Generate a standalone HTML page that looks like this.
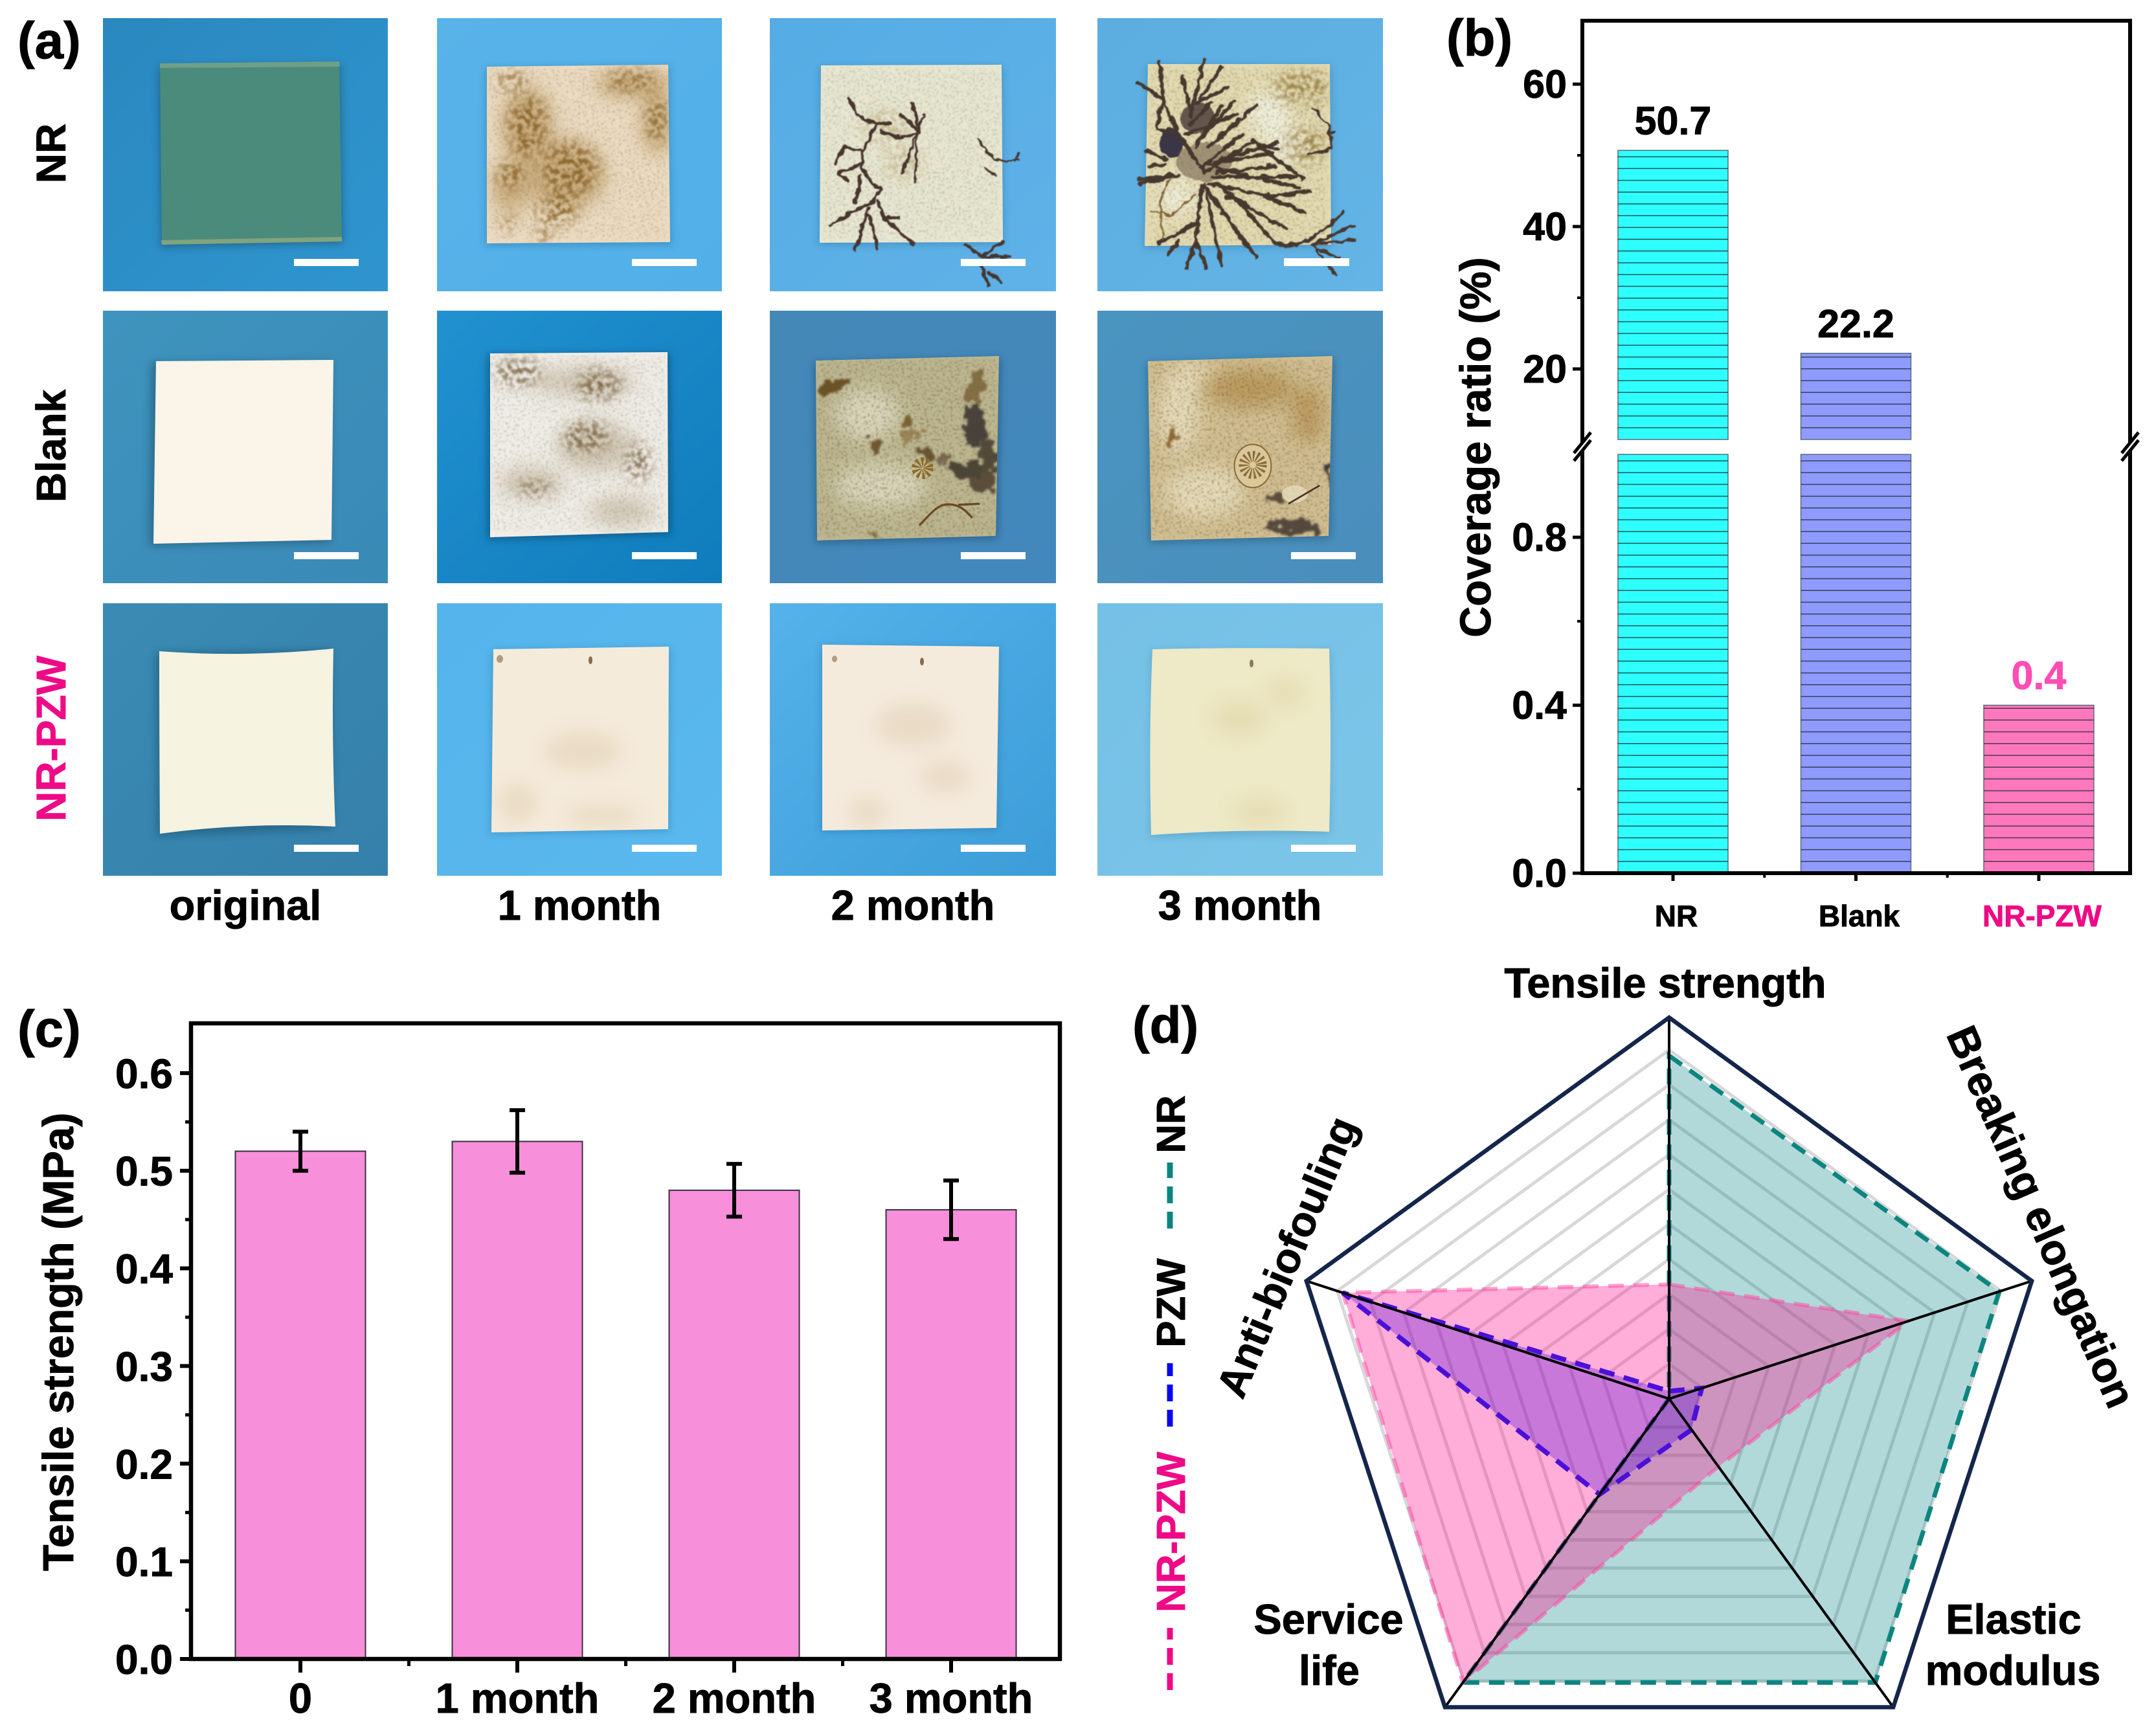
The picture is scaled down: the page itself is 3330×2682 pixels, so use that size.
<!DOCTYPE html>
<html lang="en">
<head>
<meta charset="utf-8">
<title>Antifouling coating figure</title>
<style>
html,body{margin:0;padding:0;background:#fff;}
svg{display:block;}
text{font-family:"Liberation Sans",Arial,sans-serif;font-weight:bold;fill:#000;stroke:#000;stroke-width:.9px;}
text.pink{fill:#EE0A86;stroke:#EE0A86;}
text.lightpink{fill:#FF4DB4;stroke:#FF4DB4;}
</style>
</head>
<body>
<svg id="fig" xmlns="http://www.w3.org/2000/svg" width="3330" height="2682" viewBox="0 0 3330 2682">
<defs>
  <filter id="blot" x="-40%" y="-40%" width="180%" height="180%" color-interpolation-filters="sRGB">
    <feGaussianBlur in="SourceGraphic" stdDeviation="10" result="b"/>
    <feTurbulence type="fractalNoise" baseFrequency=".13" numOctaves="3" seed="5"/>
    <feColorMatrix type="matrix" values="0 0 0 0 0  0 0 0 0 0  0 0 0 0 0  5 0 0 0 -2.1" result="n"/>
    <feComposite in="b" in2="n" operator="in"/>
    <feGaussianBlur stdDeviation="1.2"/>
  </filter>
  <filter id="speck" x="-30%" y="-30%" width="160%" height="160%" color-interpolation-filters="sRGB">
    <feGaussianBlur in="SourceGraphic" stdDeviation="4" result="b"/>
    <feTurbulence type="fractalNoise" baseFrequency=".32" numOctaves="2" seed="11"/>
    <feColorMatrix type="matrix" values="0 0 0 0 0  0 0 0 0 0  0 0 0 0 0  9 0 0 0 -5.1" result="n"/>
    <feComposite in="b" in2="n" operator="in"/>
    <feGaussianBlur stdDeviation="1"/>
  </filter>
  <filter id="soft" x="-50%" y="-50%" width="200%" height="200%"><feGaussianBlur stdDeviation="14"/></filter>
  <filter id="shade" x="-10%" y="-10%" width="120%" height="120%"><feGaussianBlur stdDeviation="6"/></filter>
  <filter id="rough" x="-10%" y="-10%" width="120%" height="120%">
    <feTurbulence type="fractalNoise" baseFrequency=".09" numOctaves="2" seed="3" result="t"/>
    <feDisplacementMap in="SourceGraphic" in2="t" scale="9" xChannelSelector="R" yChannelSelector="G"/>
    <feGaussianBlur stdDeviation=".9"/>
  </filter>
  <filter id="rough2" x="-15%" y="-15%" width="130%" height="130%">
    <feTurbulence type="fractalNoise" baseFrequency=".05" numOctaves="3" seed="8" result="t"/>
    <feDisplacementMap in="SourceGraphic" in2="t" scale="34" xChannelSelector="R" yChannelSelector="G"/>
    <feGaussianBlur stdDeviation="1.6"/>
  </filter>

  <linearGradient id="g00" x1="0" y1="0" x2="1" y2="1"><stop offset="0" stop-color="#2A88BE"/><stop offset="1" stop-color="#2F95CF"/></linearGradient>
  <linearGradient id="g01" x1="0" y1="0" x2="1" y2="1"><stop offset="0" stop-color="#58B3E9"/><stop offset="1" stop-color="#52AFE8"/></linearGradient>
  <linearGradient id="g02" x1="0" y1="0" x2="1" y2="1"><stop offset="0" stop-color="#55ACE4"/><stop offset="1" stop-color="#5FB2E8"/></linearGradient>
  <linearGradient id="g03" x1="0" y1="0" x2="1" y2="1"><stop offset="0" stop-color="#5CAEE0"/><stop offset="1" stop-color="#64B4E6"/></linearGradient>
  <linearGradient id="g10" x1="0" y1="0" x2="1" y2="1"><stop offset="0" stop-color="#3E94BE"/><stop offset="1" stop-color="#3A89B6"/></linearGradient>
  <linearGradient id="g11" x1="0" y1="0" x2="1" y2="1"><stop offset="0" stop-color="#2291D0"/><stop offset="1" stop-color="#0F7CBC"/></linearGradient>
  <linearGradient id="g12" x1="0" y1="0" x2="1" y2="1"><stop offset="0" stop-color="#4488B8"/><stop offset="1" stop-color="#4388BC"/></linearGradient>
  <linearGradient id="g13" x1="0" y1="0" x2="1" y2="1"><stop offset="0" stop-color="#4A94C0"/><stop offset="1" stop-color="#4A8EBC"/></linearGradient>
  <linearGradient id="g20" x1="0" y1="0" x2="1" y2="1"><stop offset="0" stop-color="#3A8BB4"/><stop offset="1" stop-color="#3580AB"/></linearGradient>
  <linearGradient id="g21" x1="0" y1="0" x2="1" y2="1"><stop offset="0" stop-color="#55B4EB"/><stop offset="1" stop-color="#5AB8EE"/></linearGradient>
  <linearGradient id="g22" x1="0" y1="0" x2="1" y2="1"><stop offset="0" stop-color="#55B2EA"/><stop offset="1" stop-color="#3C9DD8"/></linearGradient>
  <linearGradient id="g23" x1="0" y1="0" x2="1" y2="1"><stop offset="0" stop-color="#75C0E6"/><stop offset="1" stop-color="#7BC5E8"/></linearGradient>

  <clipPath id="c01"><path d="M752 103L1032 100L1035 374L752 376Z"/></clipPath>
  <clipPath id="c02"><path d="M1268 101L1547 100L1549 374L1266 375Z"/></clipPath>
  <clipPath id="c03"><path d="M1773 99L2054 99L2056 378L1768 380Z"/></clipPath>
  <clipPath id="c11"><path d="M757 546L1031 544L1032 822L757 830Z"/></clipPath>
  <clipPath id="c12"><path d="M1260 557L1543 550L1538 828L1262 835Z"/></clipPath>
  <clipPath id="c13"><path d="M1773 558L2058 550L2052 828L1778 835Z"/></clipPath>
  <clipPath id="c21"><path d="M762 1003L1033 999L1032 1281L759 1286Z"/></clipPath>
  <clipPath id="c22"><path d="M1270 996L1543 999L1539 1279L1270 1283Z"/></clipPath>
  <clipPath id="c23"><path d="M1780 1003L2053 1002L2053 1285L1778 1290Z"/></clipPath>
</defs>

<rect width="3330" height="2682" fill="#fff"/>

<!-- ============ PANEL A: photographs ============ -->
<g>

<g>
  <rect x="159" y="28" width="440" height="422" fill="url(#g00)"/>
  <path d="M245 104L526 100L530 376L248 382Z" fill="#123a50" opacity=".45" filter="url(#shade)"/>
  <path d="M247 98L524 95L528 373L250 378Z" fill="#4B8B7B"/>
  <path d="M247 98L524 95L525 103L247 105Z" fill="#7FA88E" opacity=".7"/>
  <path d="M249 371L528 366L528 373L250 378Z" fill="#8FA97F" opacity=".8"/>
  <rect x="454" y="400" width="100" height="11" fill="#fff"/>
</g>

<g>
  <rect x="675" y="28" width="440" height="422" fill="url(#g01)"/>
  <path d="M750 105L1034 102L1037 378L750 380Z" fill="#1c5a80" opacity=".35" filter="url(#shade)"/>
  <path d="M752 103L1032 100L1035 374L752 376Z" fill="#EBDCC3"/>
  <g clip-path="url(#c01)">
    <g filter="url(#soft)" fill="#C5A673" opacity=".8">
      <ellipse cx="815" cy="195" rx="40" ry="60"/>
      <ellipse cx="875" cy="270" rx="60" ry="55"/>
      <ellipse cx="980" cy="130" rx="60" ry="22"/>
      <ellipse cx="1015" cy="190" rx="24" ry="50"/>
      <ellipse cx="790" cy="290" rx="30" ry="40"/>
    </g>
    <g filter="url(#blot)" fill="#8F6A30">
      <ellipse cx="815" cy="195" rx="30" ry="48"/>
      <ellipse cx="880" cy="262" rx="44" ry="42"/>
      <ellipse cx="860" cy="325" rx="32" ry="24"/>
      <ellipse cx="790" cy="270" rx="22" ry="22"/>
      <ellipse cx="975" cy="125" rx="40" ry="14"/>
      <ellipse cx="1015" cy="185" rx="16" ry="34"/>
      <ellipse cx="790" cy="125" rx="26" ry="12"/>
      <ellipse cx="840" cy="365" rx="12" ry="12"/>
      <ellipse cx="785" cy="345" rx="10" ry="12"/>
    </g>
    <g filter="url(#speck)" fill="#8A6A3C" opacity=".35">
      <rect x="755" y="105" width="275" height="265"/>
    </g>
  </g>
  <rect x="976" y="400" width="100" height="11" fill="#fff"/>
</g>

<g>
  <rect x="1189" y="28" width="442" height="422" fill="url(#g02)"/>
  <path d="M1266 103L1549 102L1551 378L1264 379Z" fill="#1c5a80" opacity=".3" filter="url(#shade)"/>
  <path d="M1268 101L1547 100L1549 374L1266 375Z" fill="#E8E7D3"/>
  <g clip-path="url(#c02)">
    <g filter="url(#speck)" fill="#8C8455" opacity=".4"><rect x="1270" y="105" width="275" height="265"/></g>
    <g filter="url(#blot)" fill="#A98F55" opacity=".55">
      <ellipse cx="1370" cy="195" rx="40" ry="22"/>
      <ellipse cx="1395" cy="250" rx="28" ry="26"/>
    </g>
  </g>
  <g filter="url(#rough)">
  <g transform="translate(660,20) scale(.644,.3333)" fill="none" stroke="#47352F" stroke-width="5" stroke-linecap="round" stroke-linejoin="round">
    <path vector-effect="non-scaling-stroke" d="M1010 390L1030 470L1075 515L1060 580L1045 640L1040 720L1060 770L1085 820L1070 870L965 985"/>
    <path vector-effect="non-scaling-stroke" d="M1075 515L1110 510M1090 550L1135 580L1180 550L1135 470M1180 550L1165 420"/>
    <path vector-effect="non-scaling-stroke" d="M1190 465L1140 740M1175 560L1170 780" stroke-width="3.5"/>
    <path vector-effect="non-scaling-stroke" d="M1045 640L1000 620L980 700M1040 700L985 740L1010 780M1040 760L1025 880"/>
    <path vector-effect="non-scaling-stroke" d="M1060 900L1025 1100M1060 940L1080 1095M1080 870L1095 950L1130 950M1095 950L1165 1070"/>
    <path vector-effect="non-scaling-stroke" d="M1320 590L1360 680L1420 685M1420 650L1410 690M1335 720L1365 755" stroke-width="3.5"/>
    <path vector-effect="non-scaling-stroke" d="M1290 1075L1330 1130L1395 1130M1380 1065L1330 1125M1330 1175L1345 1265M1345 1200L1375 1245"/>
  </g>
  </g>
  <rect x="1484" y="400" width="100" height="11" fill="#fff"/>
</g>

<g>
  <rect x="1695" y="28" width="441" height="422" fill="url(#g03)"/>
  <path d="M1771 101L2056 101L2058 382L1766 384Z" fill="#1c5a80" opacity=".3" filter="url(#shade)"/>
  <path d="M1773 99L2054 99L2056 378L1768 380Z" fill="#E3DBB3"/>
  <g clip-path="url(#c03)">
    <g filter="url(#soft)" fill="#F0F0DE"><ellipse cx="1960" cy="175" rx="32" ry="34"/><ellipse cx="1985" cy="225" rx="30" ry="28"/><ellipse cx="1815" cy="305" rx="28" ry="26"/></g>
    <g filter="url(#blot)" fill="#8F7233" opacity=".8"><ellipse cx="2010" cy="135" rx="44" ry="26"/><ellipse cx="2015" cy="225" rx="32" ry="28"/></g>
    <g filter="url(#speck)" fill="#7F6A38" opacity=".45"><rect x="1775" y="105" width="275" height="270"/></g>
  </g>
  <g filter="url(#rough)">
  <g transform="translate(1680,20) scale(.3333)" fill="none" stroke="#47382F" stroke-width="17" stroke-linecap="round" stroke-linejoin="round">
    <ellipse cx="390" cy="600" rx="55" ry="70" fill="#3A3445" stroke="none"/>
    <ellipse cx="510" cy="490" rx="80" ry="70" fill="#4E403C" stroke="none" opacity=".85"/>
    <ellipse cx="540" cy="690" rx="130" ry="90" fill="#75644E" stroke="none" opacity=".6"/>
    <path d="M540 740L420 560L350 400L330 225M350 400L230 320M420 560L320 540L330 470L350 400M480 480L440 300M480 450L540 220M520 400L620 250M500 420L650 345M540 560L680 410M560 620L780 430M460 560L690 470M500 620L620 430M470 520L570 420"/>
    <path d="M540 740L760 600L880 630M560 700L860 650M600 740L870 710M600 720L980 810M760 590L1000 770M560 790L850 850L1030 825M820 850L1010 925M520 720L720 560M580 760L960 760M620 680L880 600"/>
    <path d="M540 800L780 1130M540 800L750 1100M650 850L920 1000M720 900L870 1070M540 790L620 1170M530 800L500 1060L460 1180M500 1060L550 1180M510 970L330 1070M420 1060L370 1120M600 800L740 890"/>
    <path d="M420 750L240 790M400 750L240 770M370 680L270 635M360 700L280 715"/>
    <path d="M380 770L330 880L350 1050M500 840L390 940L290 920" stroke="#86683A" stroke-width="9"/>
    <path d="M880 1070C950 1090 1040 1070 1190 920M1050 1070L1230 985M1060 1070L1240 1050M1040 1075L1140 1130L1170 1135M1060 1100L1145 1210" stroke-width="13"/>
    <path d="M1040 440L1120 520L1130 630L1020 660M1120 560L1150 550" stroke-width="11"/>
  </g>
  </g>
  <rect x="1983" y="399" width="101" height="12" fill="#fff"/>
</g>

<g>
  <rect x="159" y="480" width="440" height="421" fill="url(#g10)"/>
  <path d="M233 560L512 558L510 838L230 844Z" fill="#123a50" opacity=".4" filter="url(#shade)"/>
  <path d="M241 558L515 556L512 834L237 840Z" fill="#FBF4E8"/>
  <rect x="454" y="853" width="100" height="11" fill="#fff"/>
</g>

<g>
  <rect x="675" y="480" width="440" height="421" fill="url(#g11)"/>
  <path d="M753 548L1034 546L1036 825L753 834Z" fill="#0a3550" opacity=".5" filter="url(#shade)"/>
  <path d="M757 546L1031 544L1032 822L757 830Z" fill="#F0EEE8"/>
  <g clip-path="url(#c11)">
    <g filter="url(#soft)" fill="#C4B8A0" opacity=".7">
      <ellipse cx="920" cy="690" rx="60" ry="38"/><ellipse cx="820" cy="745" rx="50" ry="22"/><ellipse cx="960" cy="790" rx="50" ry="22"/><ellipse cx="900" cy="590" rx="80" ry="20"/>
    </g>
    <g filter="url(#blot)" fill="#6E5430" opacity=".8">
      <ellipse cx="800" cy="575" rx="36" ry="22"/>
      <ellipse cx="925" cy="595" rx="34" ry="24"/>
      <ellipse cx="985" cy="715" rx="20" ry="30"/>
      <ellipse cx="905" cy="675" rx="36" ry="24"/>
      <ellipse cx="825" cy="755" rx="28" ry="10"/>
    </g>
    <g filter="url(#speck)" fill="#7A6646" opacity=".3"><rect x="760" y="550" width="268" height="270"/></g>
  </g>
  <rect x="976" y="853" width="100" height="11" fill="#fff"/>
</g>

<g>
  <rect x="1189" y="480" width="442" height="421" fill="url(#g12)"/>
  <path d="M1258 560L1546 553L1541 832L1260 839Z" fill="#10304a" opacity=".4" filter="url(#shade)"/>
  <path d="M1260 557L1543 550L1538 828L1262 835Z" fill="#BDB892"/>
  <g clip-path="url(#c12)">
    <g filter="url(#soft)" fill="#DEDCC4" opacity=".85"><ellipse cx="1340" cy="640" rx="50" ry="40"/><ellipse cx="1360" cy="750" rx="70" ry="35"/></g>
    <g filter="url(#speck)" fill="#6E5A30" opacity=".55"><rect x="1262" y="555" width="278" height="275"/></g>
    <g filter="url(#rough2)">
    <g transform="translate(1180,470) scale(.3333)">
      <ellipse cx="295" cy="380" rx="48" ry="42" fill="#6A5128"/><ellipse cx="350" cy="378" rx="28" ry="14" fill="#6A5128"/>
      <ellipse cx="515" cy="650" rx="32" ry="34" fill="#6F5730"/><ellipse cx="660" cy="548" rx="36" ry="20" fill="#7A6030"/>
      <ellipse cx="680" cy="610" rx="45" ry="30" fill="#8A7040" opacity=".7"/><ellipse cx="750" cy="680" rx="36" ry="28" fill="#675330"/>
      <ellipse cx="985" cy="390" rx="38" ry="80" fill="#7A6235" opacity=".85"/>
      <ellipse cx="980" cy="570" rx="50" ry="100" fill="#48423A"/>
      <ellipse cx="1040" cy="720" rx="40" ry="100" fill="#524838"/>
      <ellipse cx="930" cy="770" rx="90" ry="38" fill="#4C4436"/>
      <ellipse cx="1010" cy="830" rx="70" ry="40" fill="#5C4E3A"/>
      <ellipse cx="825" cy="720" rx="26" ry="30" fill="#6A5A42" opacity=".85"/>
      <ellipse cx="510" cy="1072" rx="45" ry="10" fill="#7C6438"/>
    </g>
    </g>
    <g transform="translate(1180,470) scale(.3333)">
      <circle cx="735" cy="760" r="28" fill="none" stroke="#8C6A28" stroke-width="45" stroke-dasharray="9 9"/>
      <path d="M720 1025C790 950 810 930 850 928C900 925 930 950 965 990M900 930L1000 925" fill="none" stroke="#6B4A24" stroke-width="10"/>
    </g>
  </g>
  <rect x="1484" y="853" width="100" height="11" fill="#fff"/>
</g>

<g>
  <rect x="1695" y="480" width="441" height="421" fill="url(#g13)"/>
  <path d="M1771 561L2061 553L2055 832L1776 839Z" fill="#10304a" opacity=".35" filter="url(#shade)"/>
  <path d="M1773 558L2058 550L2052 828L1778 835Z" fill="#D2C094"/>
  <g clip-path="url(#c13)">
    <g filter="url(#soft)" fill="#E8DFBE" opacity=".9"><ellipse cx="1820" cy="640" rx="32" ry="60"/><ellipse cx="1860" cy="760" rx="60" ry="40"/><ellipse cx="1840" cy="580" rx="35" ry="18"/></g>
    <g filter="url(#soft)" fill="#B48E4E" opacity=".7"><ellipse cx="1930" cy="600" rx="70" ry="30"/><ellipse cx="2020" cy="640" rx="25" ry="45"/></g>
    <g filter="url(#speck)" fill="#6A5228" opacity=".5"><rect x="1775" y="555" width="280" height="275"/></g>
    <g filter="url(#rough2)">
    <g transform="translate(1680,470) scale(.3333)">
      <ellipse cx="390" cy="620" rx="22" ry="38" fill="#8A6530"/>
      <ellipse cx="960" cy="1030" rx="130" ry="30" fill="#54493E"/>
      <ellipse cx="880" cy="900" rx="50" ry="20" fill="#5C4E3C"/>
      <ellipse cx="1125" cy="780" rx="12" ry="60" fill="#403A34"/>
    </g>
    </g>
    <g transform="translate(1680,470) scale(.3333)">
      <ellipse cx="765" cy="750" rx="85" ry="100" fill="#DAC89A" stroke="#8A6A3A" stroke-width="6"/>
      <circle cx="765" cy="745" r="40" fill="none" stroke="#8C6C3C" stroke-width="50" stroke-dasharray="8 9"/>
      <ellipse cx="960" cy="880" rx="60" ry="40" fill="#E8DFC2" opacity=".7"/>
      <path d="M930 925L1075 840" fill="none" stroke="#4A3524" stroke-width="8"/>
    </g>
  </g>
  <rect x="1994" y="853" width="100" height="11" fill="#fff"/>
</g>

<g>
  <rect x="159" y="932" width="440" height="421" fill="url(#g20)"/>
  <path d="M240 1008L512 1004L514 1280L242 1292Z" fill="#0f3448" opacity=".35" filter="url(#shade)"/>
  <path d="M246 1006Q380 1016 515 1002Q512 1140 518 1277Q380 1270 247 1288Q246 1140 246 1006Z" fill="#F6F3E0"/>
  <rect x="454" y="1305" width="100" height="11" fill="#fff"/>
</g>

<g>
  <rect x="675" y="932" width="440" height="421" fill="url(#g21)"/>
  <path d="M760 1005L1035 1001L1034 1284L757 1289Z" fill="#1c5a80" opacity=".3" filter="url(#shade)"/>
  <path d="M762 1003L1033 999L1032 1281L759 1286Z" fill="#F5EBDB"/>
  <g clip-path="url(#c21)"><g filter="url(#soft)" fill="#DCC8A8" opacity=".45"><ellipse cx="900" cy="1160" rx="60" ry="30"/><ellipse cx="930" cy="1260" rx="60" ry="16"/><ellipse cx="800" cy="1240" rx="30" ry="30"/></g>
  <ellipse cx="912" cy="1020" rx="3" ry="6" fill="#8A6A4A"/><ellipse cx="772" cy="1018" rx="5" ry="6" fill="#B49A80"/></g>
  <rect x="976" y="1305" width="100" height="11" fill="#fff"/>
</g>

<g>
  <rect x="1189" y="932" width="442" height="421" fill="url(#g22)"/>
  <path d="M1268 998L1545 1001L1541 1282L1268 1286Z" fill="#1c5a80" opacity=".3" filter="url(#shade)"/>
  <path d="M1270 996L1543 999L1539 1279L1270 1283Z" fill="#F5EBDD"/>
  <g clip-path="url(#c22)"><g filter="url(#soft)" fill="#DCC8AC" opacity=".45"><ellipse cx="1410" cy="1120" rx="60" ry="35"/><ellipse cx="1340" cy="1255" rx="30" ry="24"/><ellipse cx="1460" cy="1200" rx="40" ry="26"/></g>
  <ellipse cx="1424" cy="1022" rx="3" ry="6" fill="#8A6A4A"/><ellipse cx="1289" cy="1018" rx="4" ry="5" fill="#B49A80"/></g>
  <rect x="1484" y="1305" width="100" height="11" fill="#fff"/>
</g>

<g>
  <rect x="1695" y="932" width="441" height="421" fill="url(#g23)"/>
  <path d="M1778 1005L2055 1004L2055 1288L1776 1293Z" fill="#1c5a80" opacity=".22" filter="url(#shade)"/>
  <path d="M1780 1003Q1920 1000 2053 1002Q2057 1140 2053 1285Q1920 1280 1778 1290Q1774 1140 1780 1003Z" fill="#EEE9C6"/>
  <g clip-path="url(#c23)"><g filter="url(#soft)" fill="#D8CD9C" opacity=".45"><ellipse cx="1915" cy="1110" rx="40" ry="26"/><ellipse cx="1945" cy="1255" rx="40" ry="20"/><ellipse cx="1985" cy="1070" rx="30" ry="20"/></g>
  <ellipse cx="1933" cy="1025" rx="3" ry="6" fill="#8A7A5A"/></g>
  <rect x="1994" y="1305" width="100" height="11" fill="#fff"/>
</g>
</g>

<!-- panel letters and photo labels -->
<text x="27" y="90" font-size="80">(a)</text>
<text x="2234" y="86" font-size="80">(b)</text>
<text x="27" y="1617" font-size="80">(c)</text>
<text x="1749" y="1611" font-size="80">(d)</text>

<text transform="translate(101,237) rotate(-90)" text-anchor="middle" font-size="64">NR</text>
<text transform="translate(101,689) rotate(-90)" text-anchor="middle" font-size="64">Blank</text>
<text class="pink" transform="translate(101,1141) rotate(-90)" text-anchor="middle" font-size="64">NR-PZW</text>

<text x="379" y="1421" text-anchor="middle" font-size="65">original</text>
<text x="895" y="1421" text-anchor="middle" font-size="65">1 month</text>
<text x="1410" y="1421" text-anchor="middle" font-size="65">2 month</text>
<text x="1915" y="1421" text-anchor="middle" font-size="65">3 month</text>

<g id="panelB"></g>
<text transform="translate(2302,691) rotate(-90)" text-anchor="middle" font-size="66.5">Coverage ratio (%)</text>

<g id="panelC"></g>
<text transform="translate(113,2073) rotate(-90)" text-anchor="middle" font-size="66.5">Tensile strength (MPa)</text>

<g id="panelD"></g>

<text x="2572" y="1541" text-anchor="middle" font-size="65">Tensile strength</text>
<text transform="translate(3152,1880) rotate(66.5)" y="22" text-anchor="middle" font-size="66">Breaking elongation</text>
<text x="3110" y="2524" text-anchor="middle" font-size="65">Elastic</text>
<text x="3109" y="2603" text-anchor="middle" font-size="65">modulus</text>
<text x="2052" y="2524" text-anchor="middle" font-size="65">Service</text>
<text x="2053" y="2603" text-anchor="middle" font-size="65">life</text>
<text transform="translate(1988,1942) rotate(-67.3)" y="22" text-anchor="middle" font-size="65">Anti-biofouling</text>

<g>
  <text transform="translate(1830,1737) rotate(-90)" text-anchor="middle" font-size="62">NR</text>
  <line x1="1807" y1="1898" x2="1807" y2="1796" stroke="#0C8580" stroke-width="9" stroke-dasharray="26 13"/>
  <text transform="translate(1830,2013) rotate(-90)" text-anchor="middle" font-size="62">PZW</text>
  <line x1="1807" y1="2204" x2="1807" y2="2106" stroke="#0808F0" stroke-width="9" stroke-dasharray="26 13"/>
  <text class="pink" transform="translate(1830,2367) rotate(-90)" text-anchor="middle" font-size="62">NR-PZW</text>
  <line x1="1807" y1="2611" x2="1807" y2="2515" stroke="#EE0A86" stroke-width="9" stroke-dasharray="26 13"/>
</g>
</svg>

<script>
// ---- panel (b) data ----
const coverageCategories = ['NR', 'Blank', 'NR-PZW'];
const coverageValues = [50.7, 22.2, 0.4];
const coverageValueLabels = ['50.7', '22.2', '0.4'];
const coverageUpperTicks = [20, 40, 60];
const coverageUpperMinor = [30, 50];
const coverageLowerTicks = [0.0, 0.4, 0.8];
const coverageLowerMinor = [0.2, 0.6];
const coverageColors = ['#2EFFFF', '#8F9BFF', '#FF78BE'];

// ---- panel (c) data ----
const tensileCategories = ['0', '1 month', '2 month', '3 month'];
const tensileValues = [0.52, 0.53, 0.48, 0.46];
const tensileErrorUpper = [0.54, 0.562, 0.507, 0.49];
const tensileErrorLower = [0.50, 0.498, 0.453, 0.43];
const tensileTicks = [0.0, 0.1, 0.2, 0.3, 0.4, 0.5, 0.6];
const tensileMinor = [0.05, 0.15, 0.25, 0.35, 0.45, 0.55];

// ---- panel (d) data: tensile, breaking, elastic, service, anti-biofouling ----
const radarNr = [0.90, 0.91, 0.92, 0.92, 0.0];
const radarPzw = [0.02, 0.09, 0.10, 0.31, 0.90];
const radarNrPzw = [0.30, 0.66, 0.22, 0.92, 0.90];
const radarGridStep = 0.0915;
const radarGridCount = 10;

const NS = 'http://www.w3.org/2000/svg';
function mk(parent, tag, attrs, txt) {
  const el = document.createElementNS(NS, tag);
  for (const k in attrs) el.setAttribute(k, attrs[k]);
  if (txt !== undefined) el.textContent = txt;
  parent.appendChild(el);
  return el;
}

// ======== Panel B ========
(function () {
  const g = document.getElementById('panelB');
  const L = 2444, R = 3290, T = 32, B = 1349;
  const breakLow = 702, breakHigh = 679;
  const yB = v => v <= 1 ? B - v * 648.7 : 570 - (v - 20) * 11;
  const xB = i => 2584 + i * 282.5;
  const barW = 170;

  coverageValues.forEach((v, i) => {
    const x = xB(i) - barW / 2;
    const top = yB(v);
    const segs = v > 1 ? [[breakLow, B], [top, breakHigh]] : [[top, B]];
    segs.forEach(s => {
      const r = mk(g, 'rect', { x: x, y: s[0], width: barW, height: s[1] - s[0], fill: coverageColors[i], stroke: '#5a6a7a', 'stroke-width': 1.5 });
      
      
      for (let y = s[1] - 18.2; y > s[0] + 2; y -= 18.2) {
        const h = mk(g, 'line', { x1: x, x2: x + barW, y1: y, y2: y, stroke: '#1f2a30', 'stroke-width': 1.5, opacity: .8 });
        
        
      }
    });
    const lab = mk(g, 'text', { x: xB(i), y: top - 25, 'text-anchor': 'middle', 'font-size': 61 }, coverageValueLabels[i]);
    
    
    if (i === 2) lab.setAttribute('class', 'lightpink');
    const c = mk(g, 'text', { x: xB(i) + 5, y: 1431, 'text-anchor': 'middle', 'font-size': 46 }, coverageCategories[i]);
    
    
    if (i === 2) c.setAttribute('class', 'pink');
    const t = mk(g, 'line', { x1: xB(i), x2: xB(i), y1: B, y2: B + 12, stroke: '#000', 'stroke-width': 5 });
    
    
    if (i < 2) {
      const m = mk(g, 'line', { x1: xB(i + 0.5), x2: xB(i + 0.5), y1: B, y2: B + 7, stroke: '#000', 'stroke-width': 4 });
      
      
    }
  });

  const frame = mk(g, 'path', {
    d: `M${L} 684V${T}H${R}V684M${L} 696V${B}H${R}V696`,
    fill: 'none', stroke: '#000', 'stroke-width': 6
  });
  
  

  [L, R].forEach(x => {
    [[700, 668], [712, 680]].forEach(p => {
      const s = mk(g, 'line', { x1: x - 13, y1: p[0], x2: x + 13, y2: p[1], stroke: '#000', 'stroke-width': 5 });
      
      
    });
  });

  coverageUpperTicks.concat(coverageLowerTicks).forEach(v => {
    const t = mk(g, 'line', { x1: L - 15, x2: L, y1: yB(v), y2: yB(v), stroke: '#000', 'stroke-width': 5 });
    
    
    const lab = mk(g, 'text', { x: 2420, y: yB(v) + 21, 'text-anchor': 'end', 'font-size': 61 }, v > 1 ? String(v) : v.toFixed(1));
    
    
  });
  coverageUpperMinor.concat(coverageLowerMinor).forEach(v => {
    const t = mk(g, 'line', { x1: L - 8, x2: L, y1: yB(v), y2: yB(v), stroke: '#000', 'stroke-width': 4 });
    
    
  });
})();

// ======== Panel C ========
(function () {
  const g = document.getElementById('panelC');
  const L = 295, R = 1637, T = 1581, B = 2563;
  const yC = v => B - v * 1508.6;
  const xC = i => 464 + i * 335;
  const barW = 201;

  tensileValues.forEach((v, i) => {
    const r = mk(g, 'rect', { x: xC(i) - barW / 2, y: yC(v), width: barW, height: B - yC(v), fill: '#F78FDB', stroke: '#3a3040', 'stroke-width': 2 });
    
    
    const e = mk(g, 'path', {
      d: `M${xC(i)} ${yC(tensileErrorUpper[i])}V${yC(tensileErrorLower[i])}M${xC(i) - 12} ${yC(tensileErrorUpper[i])}h24M${xC(i) - 12} ${yC(tensileErrorLower[i])}h24`,
      fill: 'none', stroke: '#000', 'stroke-width': 6
    });
    
    
    const t = mk(g, 'line', { x1: xC(i), x2: xC(i), y1: B, y2: B + 21, stroke: '#000', 'stroke-width': 6 });
    
    
    const lab = mk(g, 'text', { x: xC(i), y: 2646, 'text-anchor': 'middle', 'font-size': 65 }, tensileCategories[i]);
    
    
    if (i < 3) {
      const m = mk(g, 'line', { x1: xC(i + 0.5), x2: xC(i + 0.5), y1: B, y2: B + 11, stroke: '#000', 'stroke-width': 5 });
      
      
    }
  });

  const frame = mk(g, 'rect', { x: L, y: T, width: R - L, height: B - T, fill: 'none', stroke: '#000', 'stroke-width': 6.5 });
  
  

  tensileTicks.forEach(v => {
    const t = mk(g, 'line', { x1: L - 17, x2: L, y1: yC(v), y2: yC(v), stroke: '#000', 'stroke-width': 6 });
    
    
    const lab = mk(g, 'text', { x: 267, y: yC(v) + 23, 'text-anchor': 'end', 'font-size': 64 }, v.toFixed(1));
    
    
  });
  tensileMinor.forEach(v => {
    const t = mk(g, 'line', { x1: L - 9, x2: L, y1: yC(v), y2: yC(v), stroke: '#000', 'stroke-width': 5 });
    
    
  });
})();

// ======== Panel D ========
(function () {
  const g = document.getElementById('panelD');
  const cx = 2578, cy = 2161, RAD = 589;
  const pt = (i, v) => {
    const a = -Math.PI / 2 + i * 2 * Math.PI / 5;
    return [cx + RAD * v * Math.cos(a), cy + RAD * v * Math.sin(a)];
  };
  const poly = vals => vals.map((v, i) => pt(i, v).map(n => n.toFixed(1)).join(',')).join(' ');
  const idx = [0, 1, 2, 3, 4];

  for (let k = 1; k <= radarGridCount; k++) {
    const ring = mk(g, 'polygon', { points: poly(idx.map(() => k * radarGridStep)), fill: 'none', stroke: '#D8D8D8', 'stroke-width': 5 });
    
    
  }

  const nr = mk(g, 'polygon', { points: poly(radarNr), fill: 'rgba(0,128,128,.3)', stroke: '#0C8580', 'stroke-width': 7, 'stroke-dasharray': '24 15' });
  
  

  const np = mk(g, 'polygon', { points: poly(radarNrPzw), fill: 'rgba(255,20,147,.35)', stroke: 'rgba(255,70,160,.5)', 'stroke-width': 6, 'stroke-dasharray': '24 15' });
  
  

  const pz = mk(g, 'polygon', { points: poly(radarPzw), fill: 'rgba(68,0,214,.3)', stroke: '#4B10D8', 'stroke-width': 7.5, 'stroke-dasharray': '24 15' });
  
  

  idx.forEach(i => {
    const p = pt(i, 1);
    const s = mk(g, 'line', { x1: cx, y1: cy, x2: p[0], y2: p[1], stroke: '#000', 'stroke-width': 4 });
    
    
  });

  const outer = mk(g, 'polygon', { points: poly(idx.map(() => 1)), fill: 'none', stroke: '#14264A', 'stroke-width': 6.5, 'stroke-linejoin': 'miter' });
  
  
})();
</script>
</body>
</html>
